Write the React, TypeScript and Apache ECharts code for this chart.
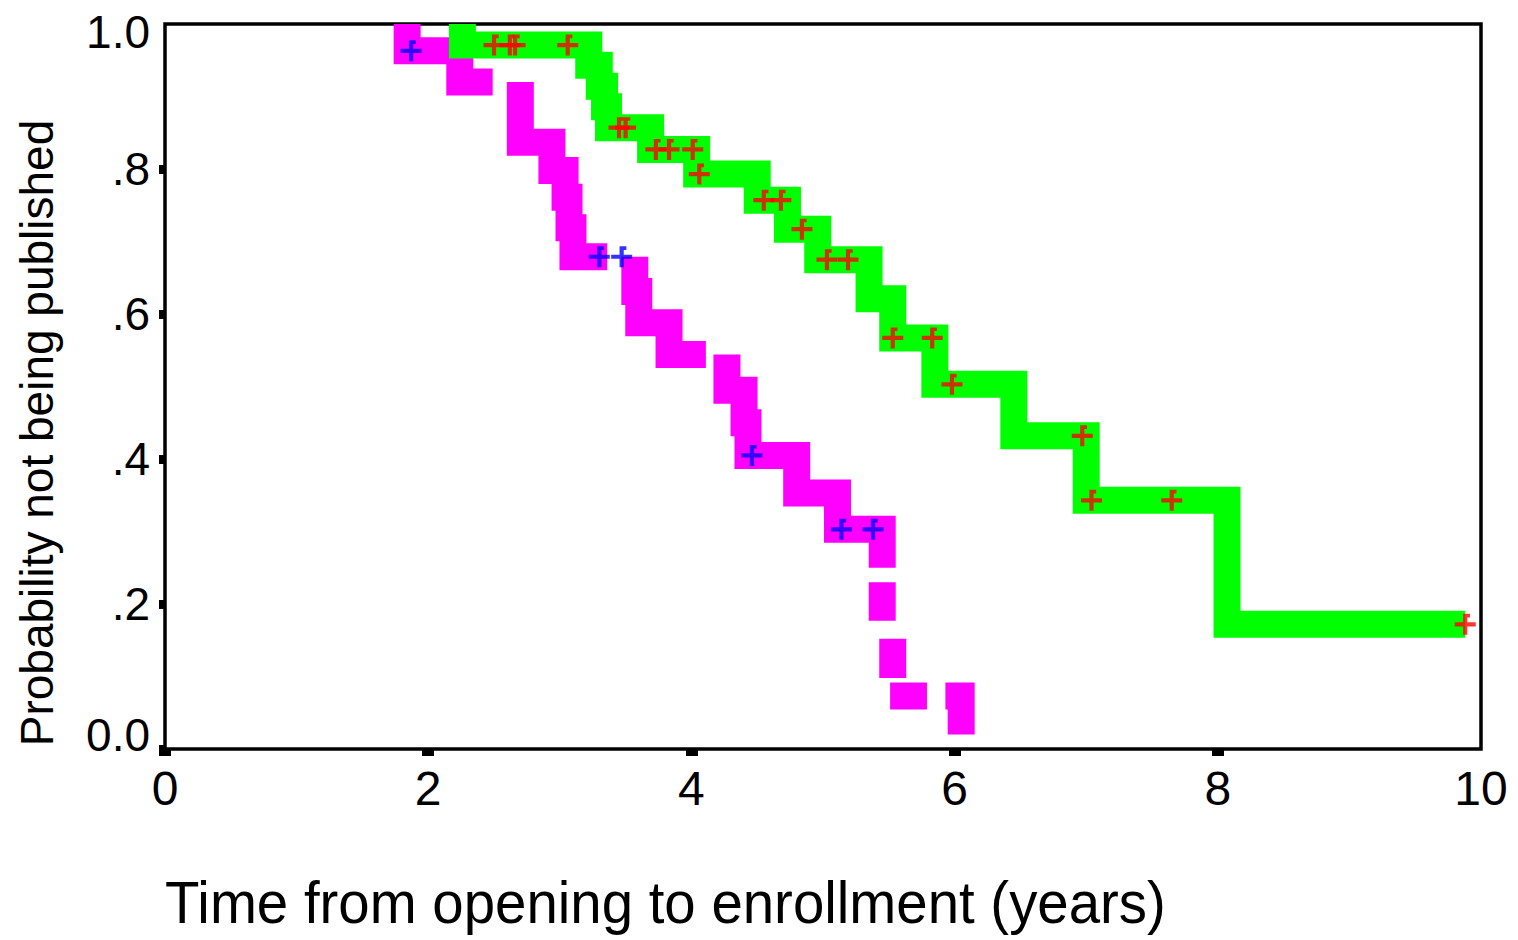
import React, { useEffect, useRef } from "react";
import * as echarts from "echarts";

// ---- axis ticks / labels ----
const xTicks = [0, 2, 4, 6, 8];
const yTicks = [0, 0.2, 0.4, 0.6, 0.8];
const yTickLabels = ["0.0", ".2", ".4", ".6", ".8", "1.0"];

// ---- green group (Kaplan-Meier steps) ----
const greenFrom = 1.0;
const greenTimes = [2.26, 3.22, 3.3, 3.34, 3.37, 3.69, 4.04, 4.5, 4.73, 4.96, 5.35, 5.53, 5.85, 6.45, 7.0, 8.07];
const greenLevels = [0.971, 0.943, 0.914, 0.886, 0.857, 0.827, 0.793, 0.757, 0.717, 0.675, 0.621, 0.567, 0.503, 0.432, 0.343, 0.172];
const greenUntil = 9.88;
const greenCensorT = [2.5, 2.62, 2.66, 3.06, 3.45, 3.5, 3.73, 3.83, 4.01, 4.06, 4.55, 4.68, 4.84, 5.03, 5.19, 5.53, 5.83, 5.98, 6.97, 7.04, 7.65, 9.88];
const greenCensorS = [0.971, 0.971, 0.971, 0.971, 0.857, 0.857, 0.827, 0.827, 0.827, 0.793, 0.757, 0.757, 0.717, 0.675, 0.675, 0.567, 0.567, 0.503, 0.432, 0.343, 0.343, 0.172];

// ---- magenta group (drawn in broken runs, as in the original) ----
const magentaRunFrom = [1.0, 0.92, 0.679, 0.544, 0.23, 0.152, 0.073, 0.073];
const magentaRunTimes = [
  [1.84, 2.24],
  [2.7, 2.94, 3.04, 3.07, 3.1],
  [3.57, 3.6, 3.83],
  [4.27, 4.4, 4.43, 4.8, 5.11, 5.45],
  [5.45],
  [5.53],
  [5.51],
  [5.93, 6.05],
];
const magentaRunLevels = [
  [0.963, 0.92],
  [0.837, 0.798, 0.761, 0.719, 0.679],
  [0.631, 0.588, 0.544],
  [0.495, 0.45, 0.405, 0.353, 0.303, 0.25],
  [0.177],
  [0.098],
  [0.073],
  [0.073, 0.02],
];
const magentaRunUntil: (number | null)[] = [2.49, 3.36, 4.11, null, null, null, 5.79, null];
const magentaCensorT = [1.87, 3.3, 3.47, 4.46, 5.14, 5.38];
const magentaCensorS = [0.963, 0.679, 0.679, 0.405, 0.303, 0.303];

const FONT = "Liberation Sans, Arial, sans-serif";
const CROSS = "path://M0,8H20V12H0Z M8,1H12V20H8Z M8,0H14.5V3.5H8Z";

function stepVertices(from: number, times: number[], levels: number[], until: number | null) {
  const pts: [number, number][] = [];
  const push = (p: [number, number]) => {
    const last = pts[pts.length - 1];
    if (!last || last[0] !== p[0] || last[1] !== p[1]) pts.push(p);
  };
  let prev = from;
  times.forEach((t, i) => {
    push([t, prev]);
    push([t, levels[i]]);
    prev = levels[i];
  });
  if (until != null) push([until, prev]);
  return pts;
}

function lineSeries(data: [number, number][], color: string) {
  return {
    type: "line",
    data,
    showSymbol: false,
    silent: true,
    clip: true,
    z: 2,
    lineStyle: { color, width: 27, cap: "butt", join: "miter" },
  };
}

export default function App() {
  const ref = useRef<HTMLDivElement>(null);
  useEffect(() => {
    if (!ref.current) return;
    document.body.style.margin = "0";
    const chart = echarts.init(ref.current, null, { renderer: "svg" });
    const series: any[] = [];
    magentaRunFrom.forEach((f, i) => {
      series.push(lineSeries(stepVertices(f, magentaRunTimes[i], magentaRunLevels[i], magentaRunUntil[i]), "#ff00ff"));
    });
    series.push(lineSeries(stepVertices(greenFrom, greenTimes, greenLevels, greenUntil), "#00ff00"));
    series.push({
      type: "scatter",
      data: magentaCensorT.map((t, i) => [t, magentaCensorS[i]]),
      symbol: CROSS,
      symbolSize: 21,
      itemStyle: { color: "#0000ff" },
      silent: true,
      z: 5,
    });
    series.push({
      type: "scatter",
      data: greenCensorT.map((t, i) => [t, greenCensorS[i]]),
      symbol: CROSS,
      symbolSize: 21,
      itemStyle: { color: "#ff0000" },
      silent: true,
      z: 5,
    });

    chart.setOption({
      animation: false,
      backgroundColor: "#ffffff",
      grid: {
        left: 165,
        right: 37,
        top: 24,
        bottom: 191,
        show: true,
        borderColor: "#000",
        borderWidth: 3.5,
        backgroundColor: "transparent",
      },
      xAxis: {
        type: "value",
        min: 0,
        max: 10,
        interval: 2,
        axisLine: { show: false },
        splitLine: { show: false },
        axisTick: { show: true, customValues: xTicks, length: 7, lineStyle: { color: "#000", width: 12 } },
        axisLabel: { fontSize: 48, color: "#000", fontFamily: FONT, margin: 15 },
      },
      yAxis: {
        type: "value",
        min: 0,
        max: 1,
        interval: 0.2,
        axisLine: { show: false },
        splitLine: { show: false },
        axisTick: { show: true, customValues: yTicks, length: 6, lineStyle: { color: "#000", width: 9 } },
        axisLabel: {
          fontSize: 46,
          color: "#000",
          fontFamily: FONT,
          margin: 15,
          formatter: (_v: number, i: number) => {
            const s = yTickLabels[i];
            if (i === 0) return "{b|" + s + "}";
            if (i === yTickLabels.length - 1) return "{t|" + s + "}";
            return s;
          },
          rich: {
            b: { fontSize: 46, color: "#000", fontFamily: FONT, padding: [0, 0, 28, 0] },
            t: { fontSize: 46, color: "#000", fontFamily: FONT, padding: [16, 0, 0, 0] },
          },
        },
      },
      graphic: [
        {
          type: "text",
          x: 37,
          y: 433,
          rotation: Math.PI / 2,
          style: {
            text: "Probability not being published",
            fontSize: 46,
            fontFamily: FONT,
            fill: "#000",
            align: "center",
            verticalAlign: "middle",
          },
        },
        {
          type: "text",
          x: 165,
          y: 902,
          scaleX: 0.94,
          style: {
            text: "Time from opening to enrollment (years)",
            fontSize: 60,
            fontFamily: FONT,
            fill: "#000",
            align: "left",
            verticalAlign: "middle",
          },
        },
      ],
      series,
    });
    return () => chart.dispose();
  }, []);
  return <div ref={ref} style={{ position: "fixed", left: 0, top: 0, width: 1518, height: 940 }} />;
}
